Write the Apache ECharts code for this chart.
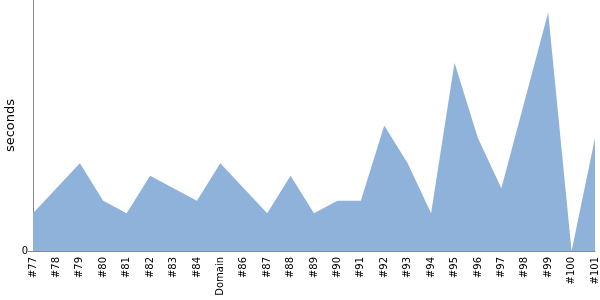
<!DOCTYPE html>
<html><head><meta charset="utf-8">
<script src="https://cdn.jsdelivr.net/npm/echarts@6/dist/echarts.min.js"></script>
<style>html,body{margin:0;padding:0;background:#fff}#c{width:600px;height:300px}</style>
</head><body><div id="c"></div>
<script>
const categories = ['#77','#78','#79','#80','#81','#82','#83','#84','Domain','#86','#87','#88','#89','#90','#91','#92','#93','#94','#95','#96','#97','#98','#99','#100','#101'];
const seconds = [3,5,7,4,3,6,5,4,7,5,3,6,3,4,4,10,7,3,15,9,5,12,19,0,9];
const yTicks = [0];
const chart = echarts.init(document.getElementById('c'));
chart.setOption({
  animation: false,
  grid: {left: 33, right: 5, top: 0, bottom: 49, containLabel: false, outerBoundsMode: 'none'},
  xAxis: {
    type: 'category', data: categories, boundaryGap: false,
    axisLine: {lineStyle: {color: '#888', width: 1}},
    axisTick: {show: false},
    axisLabel: {rotate: 90, interval: 0, color: '#000', fontFamily: 'DejaVu Sans', fontSize: 10, margin: 6}
  },
  yAxis: {
    type: 'value', min: 0, max: 20,
    name: 'seconds', nameLocation: 'middle', nameGap: 16, nameRotate: 90, nameMoveOverlap: false,
    nameTextStyle: {color: '#000', fontFamily: 'DejaVu Sans', fontSize: 13},
    axisLine: {show: true, lineStyle: {color: '#888'}},
    axisTick: {show: true, length: 5, lineStyle: {color: '#888'}, customValues: yTicks},
    splitLine: {show: false},
    axisLabel: {color: '#000', fontFamily: 'DejaVu Sans', fontSize: 10, margin: 5, customValues: yTicks}
  },
  series: [{
    type: 'line', data: seconds, symbol: 'none',
    lineStyle: {width: 0},
    areaStyle: {color: '#8FB2DB', opacity: 1}
  }]
});
</script></body></html>
